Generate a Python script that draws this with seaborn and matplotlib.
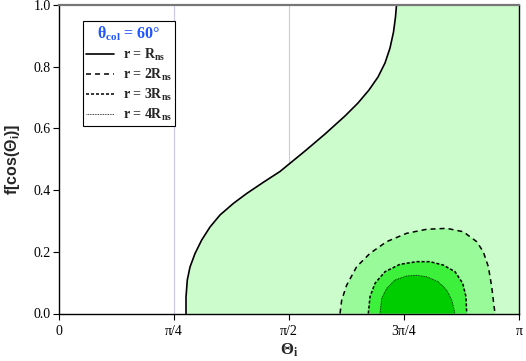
import numpy as np
import pandas as pd
import matplotlib
matplotlib.use("Agg")
import matplotlib.pyplot as plt
import seaborn as sns

PI = np.pi

# ---- data (theta in units of pi, f values) ----
# r = R_ns boundary (region to the right is allowed)
r1_theta = [0.2761, 0.2761, 0.2789, 0.2848, 0.2957, 0.3102, 0.3283, 0.3500, 0.3789,
            0.4080, 0.4435, 0.4804, 0.5043, 0.5348, 0.5783, 0.6217, 0.6500, 0.6739,
            0.6935, 0.7087, 0.7196, 0.7272, 0.7315, 0.7337]
r1_f = [0.0, 0.0535, 0.1086, 0.1507, 0.1945, 0.2382, 0.2804, 0.3193, 0.3566,
        0.3890, 0.4246, 0.4603, 0.4895, 0.5267, 0.5818, 0.6402, 0.6823, 0.7245,
        0.7666, 0.8120, 0.8606, 0.9125, 0.9611, 1.0]
# r = 2 R_ns lobe
r2_theta = [0.6109, 0.6146, 0.6254, 0.6472, 0.6761, 0.7124, 0.7559, 0.7993, 0.8428,
            0.8789, 0.9080, 0.9224, 0.9333, 0.9407, 0.9441, 0.9478]
r2_f = [0.0, 0.044, 0.092, 0.152, 0.195, 0.233, 0.260, 0.273, 0.276,
        0.265, 0.233, 0.200, 0.152, 0.087, 0.044, 0.0]
# r = 3 R_ns lobe
r3_theta = [0.6724, 0.6761, 0.6870, 0.7087, 0.7413, 0.7776, 0.8065, 0.8354, 0.8609,
            0.8776, 0.8848, 0.8863]
r3_f = [0.0, 0.0545, 0.098, 0.1355, 0.1595, 0.168, 0.168, 0.157, 0.1355, 0.098, 0.0545, 0.0]
# r = 4 R_ns lobe
r4_theta = [0.6978, 0.7015, 0.7124, 0.7304, 0.7559, 0.7776, 0.7993, 0.8246, 0.8428,
            0.8537, 0.8609]
r4_f = [0.0, 0.049, 0.0817, 0.1086, 0.1216, 0.1238, 0.119, 0.103, 0.076, 0.044, 0.0]

labels = [r"r = R$_{\mathbf{ns}}$", r"r = 2R$_{\mathbf{ns}}$",
          r"r = 3R$_{\mathbf{ns}}$", r"r = 4R$_{\mathbf{ns}}$"]
legend_title = r"θ$_{\mathbf{col}}$ = 60°"
xtick_vals = [0, 0.25, 0.5, 0.75, 1.0]
xtick_labels = ["0", "π/4", "π/2", "3π/4", "π"]
ytick_vals = [0.0, 0.2, 0.4, 0.6, 0.8, 1.0]

fills = ["#ccfccc", "#98fa98", "#3cf03c", "#00cd00"]

sns.set_theme(style="ticks")
plt.rcParams.update({
    "font.family": ["Liberation Serif", "DejaVu Serif"],
    "mathtext.fontset": "custom",
    "mathtext.rm": "Liberation Serif",
    "mathtext.it": "Liberation Serif:italic",
    "mathtext.bf": "Liberation Serif:bold",
    "mathtext.sf": "Liberation Sans:bold",
    "lines.scale_dashes": False,
    "lines.solid_joinstyle": "round",
    "lines.dash_joinstyle": "round",
})

fig = plt.figure(figsize=(5.26, 3.61), dpi=100)
ax = fig.add_axes([59 / 526, 1 - 313.5 / 361, 460 / 526, 308.5 / 361])

# vertical grid lines
for v in [0.25, 0.5, 0.75]:
    ax.axvline(v * PI, color="#c8c8f0", lw=0.8, zorder=0)

t1 = np.array(r1_theta) * PI
ax.fill_betweenx(r1_f, t1, PI, color=fills[0], lw=0, zorder=1)
ax.fill(np.array(r2_theta) * PI, r2_f, color=fills[1], lw=0, zorder=2)
ax.fill(np.array(r3_theta) * PI, r3_f, color=fills[2], lw=0, zorder=3)
ax.fill(np.array(r4_theta) * PI, r4_f, color=fills[3], lw=0, zorder=4)

styles = [("-", 1.2), ((0, (3.6, 2.9)), 1.1), ((0, (2.2, 1.4)), 1.1), ((0, (0.6, 0.6)), 0.6)]
series = [(r1_theta, r1_f), (r2_theta, r2_f), (r3_theta, r3_f), (r4_theta, r4_f)]
for (th, f), lab, (ls, lw) in zip(series, labels, styles):
    df = pd.DataFrame({"theta": np.array(th) * PI, "f": f})
    sns.lineplot(data=df, x="theta", y="f", sort=False, estimator=None,
                 color="black", linestyle=ls, linewidth=lw, label=lab, ax=ax, zorder=6)

ax.set_xlim(0, PI)
ax.set_ylim(0, 1.0)
ax.set_xticks(np.array(xtick_vals) * PI)
ax.set_xticklabels(xtick_labels)
ax.set_yticks(ytick_vals)
ax.set_yticklabels([f"{v:.1f}" for v in ytick_vals])
ax.tick_params(direction="out", length=4, width=0.8, labelsize=10, colors="black", pad=2)
ax.tick_params(axis="x", pad=4)

for s in ["left", "bottom", "right"]:
    ax.spines[s].set_color("black")
    ax.spines[s].set_linewidth(1.0)
    ax.spines[s].set_visible(True)
ax.spines["top"].set_visible(True)
ax.spines["top"].set_color("#777777")
ax.spines["top"].set_linewidth(1.6)
for s in ax.spines.values():
    s.set_zorder(10)

ax.set_xlabel(r"Θ$_{\mathbf{i}}$", fontsize=12, fontweight="bold", labelpad=3)
ax.set_ylabel(r"f[cos(Θ$_{\mathsf{i}}$)]", fontsize=11.5, fontweight="bold",
              family=["Liberation Sans", "DejaVu Sans"], labelpad=8)

leg = ax.legend(loc="upper left", bbox_to_anchor=(0.052, 0.948), borderaxespad=0,
                frameon=True, fancybox=False, edgecolor="black", framealpha=1,
                prop={"weight": "bold", "size": 10}, handlelength=2.0,
                handletextpad=0.6, labelspacing=0.28, borderpad=0.25,
                title=legend_title)
leg.get_frame().set_linewidth(0.8)
leg.get_title().set_color("#1f55ff")
leg.get_title().set_fontsize(11.5)
leg.get_title().set_fontweight("bold")
leg.set_zorder(20)

fig.savefig("out.png", dpi=100)
